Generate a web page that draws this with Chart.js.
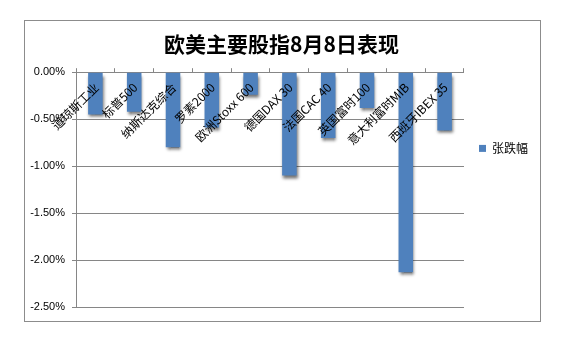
<!DOCTYPE html>
<html>
<head>
<meta charset="utf-8">
<script src="https://cdn.jsdelivr.net/npm/chart.js@4.4.0/dist/chart.umd.min.js"></script>
<style>
  html, body { margin: 0; padding: 0; background: #fff; }
  #frame { position: absolute; left: 24px; top: 20px; width: 517px; height: 302px; box-sizing: border-box; border: 1px solid #8c8c8c; }
  canvas { display: block; }
</style>
</head>
<body>
<div id="frame"><canvas id="c" width="515" height="300"></canvas></div>
<script>
const titleText = '欧美主要股指8月8日表现';
const seriesName = '张跌幅';
const categories = ['道琼斯工业', '标普500', '纳斯达克综合', '罗素2000', '欧洲Stoxx 600', '德国DAX 30', '法国CAC 40', '英国富时100', '意大利富时MIB', '西班牙IBEX 35'];
const changes = [-0.45, -0.42, -0.80, -0.59, -0.24, -1.10, -0.70, -0.38, -2.13, -0.62];
const yTicks = { min: -2.5, max: 0, step: 0.5 };

const barShadow = {
  id: 'barShadow',
  beforeDatasetDraw(chart) {
    const ctx = chart.ctx;
    ctx.save();
    ctx.shadowColor = 'rgba(0,0,0,0.55)';
    ctx.shadowBlur = 3;
    ctx.shadowOffsetX = 1;
    ctx.shadowOffsetY = 3;
  },
  afterDatasetDraw(chart) { chart.ctx.restore(); }
};

const catLabels = {
  id: 'catLabels',
  afterDatasetsDraw(chart) {
    const ctx = chart.ctx;
    const xs = chart.scales.x;
    const top = chart.chartArea.top;
    ctx.save();
    ctx.font = '12px "Noto Sans CJK SC"';
    ctx.fillStyle = '#000';
    ctx.textAlign = 'right';
    ctx.textBaseline = 'middle';
    categories.forEach((c, i) => {
      const x = xs.getPixelForValue(i);
      ctx.save();
      ctx.translate(x + 1, top + 13);
      ctx.rotate(-Math.PI / 4);
      ctx.fillText(c, 0, 0);
      ctx.restore();
    });
    ctx.restore();
  }
};

new Chart(document.getElementById('c'), {
  type: 'bar',
  data: {
    labels: categories,
    datasets: [{
      label: seriesName,
      data: changes,
      backgroundColor: '#4F81BD',
      borderWidth: 0,
      barPercentage: 0.375,
      categoryPercentage: 1.0
    }]
  },
  options: {
    responsive: false,
    animation: false,
    layout: { padding: { left: 0, right: 2, top: 0, bottom: 14 } },
    plugins: {
      title: {
        display: true,
        text: titleText,
        color: '#000',
        font: { size: 21, weight: 'bold', family: '"Noto Sans CJK SC"' },
        padding: { top: 10, bottom: 12 }
      },
      legend: {
        display: true,
        position: 'right',
        align: 'start',
        title: { display: true, text: '', padding: { top: 92, bottom: 0 }, font: { size: 12 } },
        labels: {
          boxWidth: 7,
          boxHeight: 7,
          padding: 15,
          color: '#000',
          font: { size: 12, family: '"Noto Sans CJK SC"' }
        }
      },
      tooltip: { enabled: false }
    },
    scales: {
      x: {
        position: 'top',
        offset: true,
        grid: { display: true, drawOnChartArea: false, drawTicks: true, tickLength: 4, color: '#868686', offset: true },
        border: { display: true, color: '#868686' },
        ticks: { display: false }
      },
      y: {
        min: yTicks.min,
        max: yTicks.max,
        afterFit(scale) { scale.width = 51; },
        ticks: {
          stepSize: yTicks.step,
          padding: 7,
          color: '#000',
          font: { size: 11, family: '"Liberation Sans"' },
          callback: v => v.toFixed(2) + '%'
        },
        grid: { color: '#868686', tickLength: 4 },
        border: { display: true, color: '#868686' }
      }
    }
  },
  plugins: [barShadow, catLabels]
});
</script>
</body>
</html>
